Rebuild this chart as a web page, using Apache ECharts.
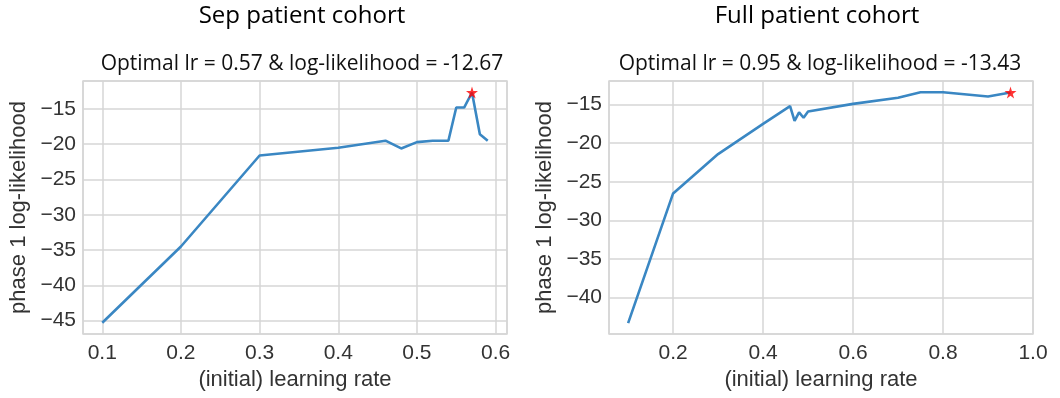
<!DOCTYPE html>
<html><head><meta charset="utf-8">
<script src="https://cdn.jsdelivr.net/npm/echarts@6/dist/echarts.min.js"></script>
<style>html,body{margin:0;padding:0;background:#fff}#c{width:1060px;height:398px}</style>
</head><body><div id="c"></div>
<script>
// Data
const sepLr = [0.1, 0.2, 0.3, 0.4, 0.46, 0.48, 0.5, 0.52, 0.54, 0.55, 0.56, 0.57, 0.58, 0.59];
const sepLL = [-45.3, -34.5, -21.6, -20.5, -19.5, -20.6, -19.7, -19.5, -19.5, -14.8, -14.8, -12.67, -18.6, -19.5];
const fullLr = [0.1, 0.2, 0.3, 0.4, 0.46, 0.47, 0.48, 0.49, 0.5, 0.6, 0.7, 0.75, 0.8, 0.9, 0.95];
const fullLL = [-43.3, -26.5, -21.4, -17.5, -15.2, -17.1, -16.0, -16.7, -15.9, -14.9, -14.1, -13.4, -13.4, -13.95, -13.43];
const sepBest = [0.57, -12.67];
const fullBest = [0.95, -13.43];
const titles = ['Sep patient cohort', 'Full patient cohort'];
const subtitles = ['Optimal lr = 0.57 & log-likelihood = -12.67', 'Optimal lr = 0.95 & log-likelihood = -13.43'];
const xName = '(initial) learning rate';
const yName = 'phase 1 log-likelihood';

const zip = (a, b) => a.map((v, i) => [v, b[i]]);
const STAR = 'path://M50,0 L61,35 L98,35 L68,57 L79,91 L50,70 L21,91 L32,57 L2,35 L39,35 Z';
const gridCol = '#d6d6d6';
const txt = '#333333';
const tickFont = 'Liberation Sans, Arial, sans-serif';
const titleFont = 'Open Sans, sans-serif';

function xAxis(gi, min, max, split, showMax) {
  return {
    type: 'value', gridIndex: gi, min: min, max: max, splitNumber: split,
    name: xName, nameLocation: 'middle', nameGap: 34,
    nameTextStyle: {color: txt, fontSize: 22, fontFamily: tickFont},
    axisLine: {show: false}, axisTick: {show: false},
    axisLabel: {color: txt, fontSize: 21, fontFamily: tickFont, margin: 9,
      showMinLabel: false, showMaxLabel: showMax,
      formatter: v => v.toFixed(1)},
    splitLine: {show: true, lineStyle: {color: gridCol, width: 1.5}}
  };
}
function yAxis(gi, min, max, split) {
  return {
    type: 'value', gridIndex: gi, min: min, max: max, splitNumber: split,
    name: yName, nameLocation: 'middle', nameGap: 53,
    nameTextStyle: {color: txt, fontSize: 22, fontFamily: tickFont},
    axisLine: {show: false}, axisTick: {show: false},
    axisLabel: {color: txt, fontSize: 21, fontFamily: tickFont, margin: 7,
      showMinLabel: false, showMaxLabel: false,
      formatter: v => (v < 0 ? '\u2212' + Math.abs(v) : String(v))},
    splitLine: {show: true, lineStyle: {color: gridCol, width: 1.5}}
  };
}

const chart = echarts.init(document.getElementById('c'));
chart.setOption({
  animation: false,
  backgroundColor: '#ffffff',
  title: [
    {text: titles[0], left: 297, top: -1, textAlign: 'center', textStyle: {fontFamily: titleFont, fontWeight: 'normal', fontSize: 24, color: '#000'}},
    {text: titles[1], left: 812, top: -1, textAlign: 'center', textStyle: {fontFamily: titleFont, fontWeight: 'normal', fontSize: 24, color: '#000'}},
    {text: subtitles[0], left: 297, top: 49, textAlign: 'center', textStyle: {fontFamily: titleFont, fontWeight: 'normal', fontSize: 21, color: '#111'}},
    {text: subtitles[1], left: 815, top: 49, textAlign: 'center', textStyle: {fontFamily: titleFont, fontWeight: 'normal', fontSize: 21, color: '#111'}}
  ],
  grid: [
    {left: 83, top: 81, width: 424, height: 253, show: true, borderColor: gridCol, borderWidth: 1.5, backgroundColor: 'transparent'},
    {left: 609, top: 81, width: 424, height: 253, show: true, borderColor: gridCol, borderWidth: 1.5, backgroundColor: 'transparent'}
  ],
  xAxis: [xAxis(0, 0.0755, 0.6145, 5, false), xAxis(1, 0.0575, 1.0, 5, true)],
  yAxis: [yAxis(0, -46.9, -11.04, 7), yAxis(1, -44.7, -11.94, 6)],
  series: [
    {type: 'line', xAxisIndex: 0, yAxisIndex: 0, data: zip(sepLr, sepLL), showSymbol: false, symbol: 'none',
      lineStyle: {color: '#3a87c3', width: 2.6}, z: 3},
    {type: 'line', xAxisIndex: 1, yAxisIndex: 1, data: zip(fullLr, fullLL), showSymbol: false, symbol: 'none',
      lineStyle: {color: '#3a87c3', width: 2.6}, z: 3},
    {type: 'scatter', xAxisIndex: 0, yAxisIndex: 0, data: [sepBest], symbol: STAR, symbolSize: 12,
      itemStyle: {color: '#ff0000'}, z: 5},
    {type: 'scatter', xAxisIndex: 1, yAxisIndex: 1, data: [fullBest], symbol: STAR, symbolSize: 12,
      itemStyle: {color: '#ff0000'}, z: 5}
  ]
});
</script></body></html>
